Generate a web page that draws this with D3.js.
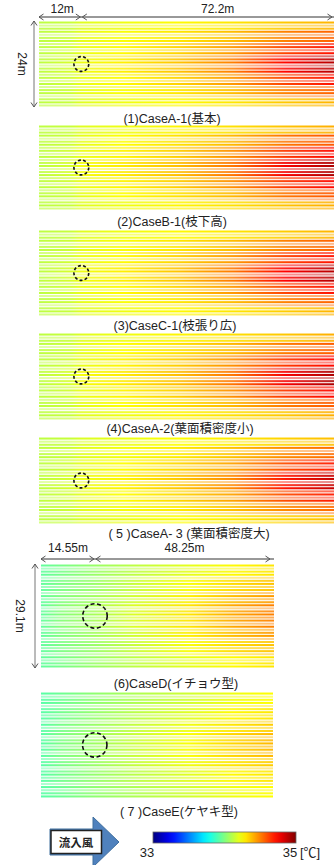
<!DOCTYPE html>
<html><head><meta charset="utf-8">
<script src="https://cdn.jsdelivr.net/npm/d3@7"></script>
<style>
body{margin:0;background:#fff;overflow:hidden}
svg{display:block}
text{font-family:"Liberation Sans",Arial,"Noto Sans CJK JP",sans-serif;fill:#222}
</style>
</head><body>
<svg id="chart" width="334" height="865"></svg>
<script>
// ---- data ----
const caseLabels = ["(1)CaseA-1(基本)", "(2)CaseB-1(枝下高)", "(3)CaseC-1(枝張り広)",
  "(4)CaseA-2(葉面積密度小)", "( 5 )CaseA- 3 (葉面積密度大)", "(6)CaseD(イチョウ型)", "( 7 )CaseE(ケヤキ型)"];
// domain sizes (m): upstream gap to the tree, tree to outlet, domain width
const spanLong = [12, 72.2];
const heightLong = 24;
const spanShort = [14.55, 48.25];
const heightShort = 29.1;
// crown diameter (m) of the tree marked by the dashed circle
const crownLong = 4.2;
const crownShort = 6.6;
// sampling stations along the flow (m)
const stationsLong = [0, 9, 12, 24, 40, 55, 70, 84.2];
const stationsShort = [0, 5, 14.55, 25, 40, 52, 62.8];
// air temperature (°C) at the stations, per lateral band: edge, outer, mid, core
const tempA1 = [
  [34.12, 34.14, 34.19, 34.22, 34.26, 34.30, 34.36, 34.40],
  [34.12, 34.15, 34.20, 34.24, 34.30, 34.38, 34.50, 34.56],
  [34.12, 34.16, 34.21, 34.26, 34.34, 34.45, 34.62, 34.72],
  [34.12, 34.17, 34.22, 34.28, 34.37, 34.50, 34.74, 34.90]];
const tempB1 = [
  [34.12, 34.14, 34.19, 34.22, 34.27, 34.31, 34.37, 34.41],
  [34.12, 34.15, 34.20, 34.25, 34.31, 34.39, 34.52, 34.58],
  [34.12, 34.16, 34.21, 34.27, 34.35, 34.47, 34.64, 34.74],
  [34.12, 34.17, 34.23, 34.29, 34.38, 34.52, 34.77, 34.92]];
const tempC1 = [
  [34.12, 34.14, 34.19, 34.22, 34.26, 34.30, 34.35, 34.40],
  [34.12, 34.15, 34.20, 34.24, 34.30, 34.38, 34.50, 34.56],
  [34.12, 34.16, 34.21, 34.26, 34.34, 34.45, 34.62, 34.72],
  [34.12, 34.17, 34.22, 34.28, 34.37, 34.51, 34.75, 34.90]];
const tempA2 = [
  [34.12, 34.14, 34.19, 34.22, 34.27, 34.31, 34.36, 34.41],
  [34.12, 34.15, 34.20, 34.25, 34.31, 34.39, 34.51, 34.57],
  [34.12, 34.16, 34.21, 34.27, 34.35, 34.47, 34.64, 34.74],
  [34.12, 34.17, 34.23, 34.29, 34.38, 34.52, 34.77, 34.92]];
const tempA3 = [
  [34.12, 34.14, 34.18, 34.21, 34.25, 34.29, 34.34, 34.38],
  [34.12, 34.15, 34.19, 34.23, 34.29, 34.37, 34.48, 34.54],
  [34.12, 34.16, 34.20, 34.25, 34.33, 34.43, 34.60, 34.70],
  [34.12, 34.17, 34.21, 34.27, 34.36, 34.48, 34.71, 34.87]];
const tempD = [
  [33.94, 33.98, 34.05, 34.12, 34.20, 34.26, 34.30],
  [33.94, 33.99, 34.05, 34.14, 34.24, 34.32, 34.37],
  [33.94, 34.00, 34.07, 34.16, 34.28, 34.38, 34.45],
  [33.94, 34.01, 34.08, 34.18, 34.30, 34.42, 34.50]];
const tempE = [
  [33.92, 33.96, 34.03, 34.09, 34.16, 34.22, 34.25],
  [33.92, 33.97, 34.04, 34.11, 34.19, 34.26, 34.30],
  [33.92, 33.98, 34.05, 34.13, 34.22, 34.30, 34.35],
  [33.92, 33.99, 34.06, 34.14, 34.24, 34.33, 34.39]];
const colorDomain = [33, 35];
const colorUnit = "[℃]";
const inflowLabel = "流入風";

// ---- layout ----
const svg = d3.select("#chart");
const defs = svg.append("defs");

// jet colour map
function jet(t) {
  const c = v => Math.max(0, Math.min(1, v));
  return d3.rgb(
    255 * c(Math.min(4 * t - 1.5, -4 * t + 4.5)),
    255 * c(Math.min(4 * t - 0.5, -4 * t + 3.5)),
    255 * c(Math.min(4 * t + 0.5, -4 * t + 2.5)));
}
const color = d3.scaleSequential(jet).domain(colorDomain);

const panels = [
  {label: caseLabels[0], temp: tempA1, long: true, top: 21, bottom: 107, x0: 39, x1: 336, labelX: 172, labelY: 123},
  {label: caseLabels[1], temp: tempB1, long: true, top: 125, bottom: 210, x0: 39, x1: 336, labelX: 172, labelY: 226},
  {label: caseLabels[2], temp: tempC1, long: true, top: 230, bottom: 316, x0: 39, x1: 336, labelX: 175, labelY: 330},
  {label: caseLabels[3], temp: tempA2, long: true, top: 333, bottom: 420, x0: 39, x1: 336, labelX: 180, labelY: 433},
  {label: caseLabels[4], temp: tempA3, long: true, top: 437, bottom: 524, x0: 39, x1: 336, labelX: 189, labelY: 538},
  {label: caseLabels[5], temp: tempD, long: false, top: 564, bottom: 668, x0: 41, x1: 274, labelX: 176, labelY: 688},
  {label: caseLabels[6], temp: tempE, long: false, top: 692, bottom: 798, x0: 41, x1: 273, labelX: 179, labelY: 816}
];

// alternating strong / pale streak lines
const rowShade = [1, 0.55, 0.9, 1, 0.45, 0.85, 1, 0.65, 0.95, 0.5];

panels.forEach((p, pi) => {
  const span = p.long ? spanLong : spanShort;
  const width = p.long ? heightLong : heightShort;
  const stations = p.long ? stationsLong : stationsShort;
  const total = d3.sum(span);
  const x = d3.scaleLinear().domain([0, total]).range([p.x0, p.x1]);
  const y = d3.scaleLinear().domain([0, width]).range([p.top, p.bottom]);

  // one horizontal gradient per lateral band
  p.temp.forEach((row, bi) => {
    const g = defs.append("linearGradient")
      .attr("id", `g${pi}_${bi}`)
      .attr("gradientUnits", "userSpaceOnUse")
      .attr("x1", x(0)).attr("x2", x(total)).attr("y1", 0).attr("y2", 0);
    g.selectAll("stop").data(stations).join("stop")
      .attr("offset", d => d / total)
      .attr("stop-color", (d, i) => color(row[i]));
  });

  const n = p.long ? 28 : 34;
  const rows = d3.range(n);
  const bandOf = i => {
    const d = Math.abs((i + 0.5) / n - 0.5) * 2;
    return d < 0.25 ? 3 : d < 0.5 ? 2 : d < 0.78 ? 1 : 0;
  };
  const step = (y(width) - y(0)) / n;
  const gp = svg.append("g");
  gp.selectAll("rect").data(rows).join("rect")
    .attr("x", x(0))
    .attr("width", x(total) - x(0))
    .attr("y", i => y((i + 0.5) * width / n) - step * 0.33)
    .attr("height", step * 0.66)
    .attr("fill", i => `url(#g${pi}_${bandOf(i)})`)
    .attr("opacity", i => rowShade[i % rowShade.length]);

  // tree crown
  const crown = p.long ? crownLong : crownShort;
  svg.append("circle")
    .attr("cx", x(span[0]))
    .attr("cy", y(width / 2))
    .attr("r", (x(crown) - x(0)) / 2)
    .attr("fill", "none")
    .attr("stroke", "#111")
    .attr("stroke-width", 1.6)
    .attr("stroke-dasharray", p.long ? "3,2.2" : "4,2.6");

  svg.append("text")
    .attr("x", p.labelX).attr("y", p.labelY)
    .attr("text-anchor", "middle")
    .attr("font-size", 12.5)
    .text(p.label);

  p.x = x; p.y = y; p.total = total; p.span = span; p.width = width;
});

// ---- dimension lines ----
function chevron(g, px, py, dir, stroke) {
  // open arrow head pointing in direction dir: 'l','r','u','d'
  const s = 4.5, h = 3;
  let d;
  if (dir === "l") d = `M${px + s},${py - h}L${px},${py}L${px + s},${py + h}`;
  if (dir === "r") d = `M${px - s},${py - h}L${px},${py}L${px - s},${py + h}`;
  if (dir === "u") d = `M${px - h},${py + s}L${px},${py}L${px + h},${py + s}`;
  if (dir === "d") d = `M${px - h},${py - s}L${px},${py}L${px + h},${py - s}`;
  g.append("path").attr("d", d).attr("fill", "none").attr("stroke", stroke).attr("stroke-width", 1);
}

function dimensions(p, lineY, textY, vX, vTextX, labelShift) {
  const g = svg.append("g");
  const xs = [0, p.span[0], p.total].map(p.x);
  g.append("line").attr("x1", xs[0]).attr("x2", xs[2]).attr("y1", lineY).attr("y2", lineY)
    .attr("stroke", "#333").attr("stroke-width", 1);
  chevron(g, xs[0], lineY, "l", "#555");
  chevron(g, xs[1] - 1, lineY, "r", "#555");
  chevron(g, xs[1] + 1, lineY, "l", "#555");
  chevron(g, xs[2] - 4, lineY, "r", "#555");
  p.span.forEach((s, i) => {
    g.append("text").attr("x", (xs[i] + xs[i + 1]) / 2 + labelShift[i]).attr("y", textY)
      .attr("text-anchor", "middle").attr("font-size", 12).text(`${s}m`);
  });
  const y0 = p.y(0), y1 = p.y(p.width);
  g.append("line").attr("x1", vX).attr("x2", vX).attr("y1", y0).attr("y2", y1)
    .attr("stroke", "#777").attr("stroke-width", 1);
  chevron(g, vX, y0, "u", "#555");
  chevron(g, vX, y1, "d", "#555");
  g.append("text")
    .attr("transform", `translate(${vTextX},${(y0 + y1) / 2}) rotate(90)`)
    .attr("text-anchor", "middle").attr("font-size", 12).text(`${p.width}m`);
}
dimensions(panels[0], 17, 13, 34, 18, [2, 9]);
dimensions(panels[5], 559, 552, 35, 16, [0, 0]);

// ---- inflow arrow ----
const ga = svg.append("g");
ga.append("path")
  .attr("d", "M50,829L93,829L93,817L119,842L93,867L93,855L50,855Z")
  .attr("fill", "#4f81bd").attr("stroke", "#41709f").attr("stroke-width", 1);
ga.append("rect").attr("x", 51).attr("y", 830.5).attr("width", 50.5).attr("height", 23)
  .attr("fill", "#fff").attr("stroke", "#222").attr("stroke-width", 1.5);
ga.append("text").attr("x", 76).attr("y", 846.5).attr("text-anchor", "middle")
  .attr("font-size", 11.5).attr("font-weight", "bold").text(inflowLabel);

// ---- colour bar ----
const cb = {x0: 153, x1: 296, y: 832, h: 11};
const cbScale = d3.scaleLinear().domain(colorDomain).range([cb.x0, cb.x1]);
const cg = defs.append("linearGradient").attr("id", "cbar");
cg.selectAll("stop").data(d3.range(0, 1.0001, 0.05)).join("stop")
  .attr("offset", d => d)
  .attr("stop-color", d => color(colorDomain[0] + d * (colorDomain[1] - colorDomain[0])));
svg.append("rect").attr("x", cb.x0).attr("y", cb.y).attr("width", cb.x1 - cb.x0).attr("height", cb.h)
  .attr("fill", "url(#cbar)").attr("stroke", "#666").attr("stroke-width", 0.8);
svg.append("text").attr("x", cbScale(colorDomain[0]) - 6).attr("y", 857).attr("text-anchor", "middle")
  .attr("font-size", 13).text(colorDomain[0]);
svg.append("text").attr("x", cbScale(colorDomain[1]) - 6).attr("y", 857).attr("text-anchor", "middle")
  .attr("font-size", 13).text(colorDomain[1]);
svg.append("text").attr("x", cbScale(colorDomain[1]) + 4).attr("y", 857).attr("text-anchor", "start")
  .attr("font-size", 13).text(colorUnit);
</script>
</body></html>
